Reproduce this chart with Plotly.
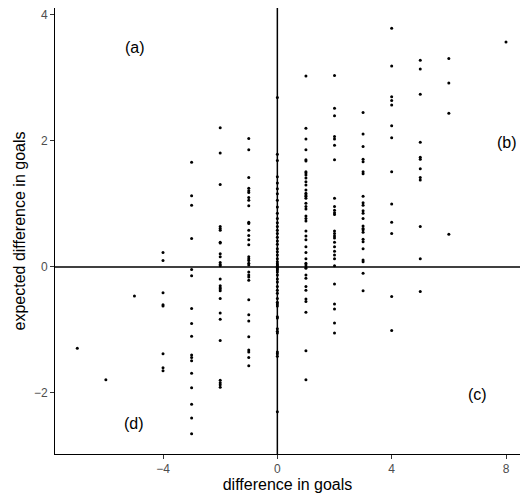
import plotly.graph_objects as go

# Observed goal difference (x) and expected goal difference (y), one list per x column
col_m7 = [-1.29]
col_m6 = [-1.79]
col_m5 = [-0.46]
col_m4 = [0.23, 0.10, -0.41, -0.60, -0.62, -1.38, -1.60, -1.65]
col_m3 = [1.66, 1.13, 0.98, 0.45, -0.04, -0.14, -0.66, -0.90, -1.10, -1.40, -1.44,
          -1.49, -1.69, -1.92, -2.18, -2.40, -2.65]
col_m2 = [2.21, 1.81, 1.31, 0.64, 0.61, 0.58, 0.39, 0.38, 0.21, 0.16, 0.07, 0.04, 0.02,
          -0.19, -0.30, -0.33, -0.35, -0.38, -0.50, -0.73, -0.83, -1.17, -1.80, -1.84,
          -1.87, -1.91]
col_m1 = [2.04, 1.86, 1.42, 1.25, 1.21, 1.18, 1.10, 1.06, 0.97, 0.71, 0.69, 0.58, 0.50,
          0.43, 0.35, 0.16, 0.13, 0.10, 0.06, 0.03, -0.08, -0.13, -0.16, -0.21, -0.52,
          -0.76, -0.86, -1.11, -1.32, -1.35, -1.44, -1.57]
col_0 = [2.69, 1.79, 1.69, 1.43, 1.33, 1.24, 1.16, 1.06, 0.95, 0.85, 0.77, 0.70, 0.64,
         0.58, 0.53, 0.47, 0.41, 0.36, 0.29, 0.24, 0.19, 0.13, 0.08, 0.05, 0.03, 0.01,
         -0.01, -0.03, -0.05, -0.08, -0.13, -0.19, -0.24, -0.31, -0.37, -0.42, -0.50,
         -0.56, -0.59, -0.62, -0.79, -0.81, -0.98, -1.02, -1.05, -1.35, -1.38, -1.42,
         -2.30]
col_1 = [3.03, 2.20, 2.03, 1.86, 1.70, 1.68, 1.51, 1.49, 1.46, 1.41, 1.35, 1.30, 1.22,
         1.17, 1.14, 1.12, 1.09, 1.01, 0.96, 0.92, 0.81, 0.77, 0.73, 0.57, 0.49, 0.43,
         0.32, 0.23, 0.13, 0.06, 0.03, 0.00, -0.02, -0.13, -0.18, -0.31, -0.37, -0.51,
         -0.55, -0.72, -1.33, -1.79]
col_2 = [3.04, 2.52, 2.40, 2.07, 2.03, 1.93, 1.70, 1.09, 0.96, 0.90, 0.86, 0.83, 0.57,
         0.53, 0.49, 0.46, 0.39, 0.32, 0.25, 0.19, 0.13, 0.02, -0.27, -0.59, -0.67,
         -0.89, -1.05]
col_3 = [2.45, 2.11, 1.91, 1.71, 1.67, 1.51, 1.48, 1.12, 1.02, 0.98, 0.89, 0.85, 0.77,
         0.65, 0.61, 0.59, 0.55, 0.44, 0.40, 0.29, 0.11, 0.08, -0.10, -0.38]
col_4 = [3.79, 3.19, 2.70, 2.64, 2.57, 2.24, 2.05, 1.51, 1.00, 0.71, 0.53, -0.47, -1.01]
col_5 = [3.28, 3.14, 2.74, 1.98, 1.74, 1.71, 1.56, 1.42, 1.38, 0.64, 0.13, -0.39]
col_6 = [3.31, 2.92, 2.44, 0.52]
col_8 = [3.57]

columns = {-7: col_m7, -6: col_m6, -5: col_m5, -4: col_m4, -3: col_m3, -2: col_m2,
           -1: col_m1, 0: col_0, 1: col_1, 2: col_2, 3: col_3, 4: col_4, 5: col_5,
           6: col_6, 8: col_8}

x_ticks = [-4, 0, 4, 8]
y_ticks = [-2, 0, 2, 4]
quadrant_labels = ["(a)", "(b)", "(c)", "(d)"]
quadrant_pos = [(-4.98, 3.49), (8.03, 1.97), (7.02, -2.03), (-5.01, -2.49)]

xs, ys = [], []
for k, vals in columns.items():
    xs += [k] * len(vals)
    ys += vals

fig = go.Figure()
fig.add_trace(go.Scatter(x=xs, y=ys, mode="markers",
                         marker=dict(color="black", size=3, line=dict(width=0)),
                         showlegend=False, hoverinfo="skip"))

fig.add_vline(x=0, line=dict(color="black", width=1.5), layer="above")
fig.add_hline(y=0, line=dict(color="black", width=1.5), layer="above")

for lab, (ax, ay) in zip(quadrant_labels, quadrant_pos):
    fig.add_annotation(x=ax, y=ay, text=lab, showarrow=False,
                       font=dict(size=16, color="black"))

axis_common = dict(showgrid=False, zeroline=False, showline=True, linecolor="black",
                   linewidth=1, ticks="outside", ticklen=4, tickcolor="#333333",
                   tickfont=dict(size=12, color="#4D4D4D"),
                   title_font=dict(size=16, color="black"))

fig.update_layout(
    width=520, height=496,
    margin=dict(l=55, r=0, t=8, b=42),
    paper_bgcolor="white", plot_bgcolor="white",
    font=dict(family="Liberation Sans, Arial, sans-serif"),
    xaxis=dict(range=[-7.78, 8.49], tickvals=x_ticks,
               ticktext=[str(v).replace("-", "\u2212") for v in x_ticks],
               title=dict(text="difference in goals", standoff=1), **axis_common),
    yaxis=dict(range=[-2.97, 4.11], tickvals=y_ticks,
               ticktext=[str(v).replace("-", "\u2212") for v in y_ticks],
               title=dict(text="expected difference in goals", standoff=4), **axis_common),
)

fig.write_html("out.html")
